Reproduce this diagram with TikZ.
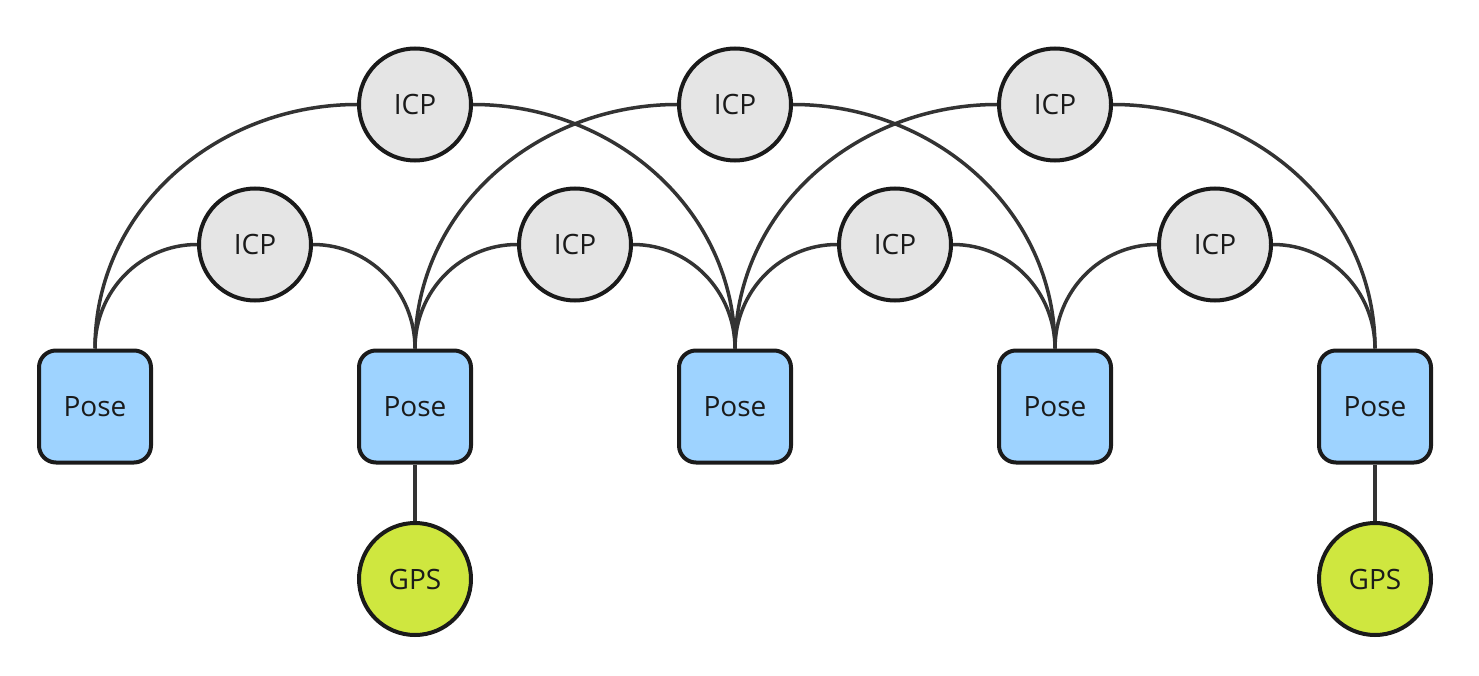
\documentclass[tikz,border=0pt]{standalone}
\usepackage{fontspec}
\setmainfont{Open Sans}
\definecolor{posefill}{HTML}{9ED3FF}
\definecolor{icpfill}{HTML}{E5E5E5}
\definecolor{gpsfill}{HTML}{CFE73F}
\definecolor{edgecol}{HTML}{333333}
\definecolor{bordercol}{HTML}{1A1A1A}
\begin{document}
\begin{tikzpicture}[x=1pt,y=-1pt,
  posebox/.style={draw=bordercol,line width=4pt,fill=posefill,rounded corners=17pt,minimum width=112pt,minimum height=112pt,inner sep=0pt,font=\fontsize{28}{33}\selectfont,text=bordercol},
  icpnode/.style={circle,draw=bordercol,line width=4pt,fill=icpfill,minimum size=112pt,inner sep=0pt,font=\fontsize{28}{33}\selectfont,text=bordercol},
  gpsnode/.style={circle,draw=bordercol,line width=4pt,fill=gpsfill,minimum size=112pt,inner sep=0pt,font=\fontsize{28}{33}\selectfont,text=bordercol},
  link/.style={draw=edgecol,line width=3.5pt}]
\useasboundingbox (0,0) rectangle (1479,676);
\foreach \i/\x in {1/95,2/415,3/735,4/1055,5/1375}{
  \node[posebox] (p\i) at (\x,406.5) {Pose};
}
\foreach \i/\x in {1/255,2/575,3/895,4/1215}{
  \node[icpnode] (a\i) at (\x,244.5) {ICP};
}
\foreach \i/\x in {1/415,2/735,3/1055}{
  \node[icpnode] (b\i) at (\x,104.5) {ICP};
}
\node[gpsnode] (g1) at (415,579) {GPS};
\node[gpsnode] (g2) at (1375,579) {GPS};
\foreach \i/\j in {1/2,2/3,3/4,4/5}{
  \draw[link] (p\i.north) to[out=90,in=180] (a\i.west);
  \draw[link] (a\i.east) to[out=0,in=90] (p\j.north);
}
\foreach \i/\j/\k in {1/1/3,2/2/4,3/3/5}{
  \draw[link] (p\j.north) to[out=90,in=180] (b\i.west);
  \draw[link] (b\i.east) to[out=0,in=90] (p\k.north);
}
\draw[link] (p2.south) -- (g1.north);
\draw[link] (p5.south) -- (g2.north);
\end{tikzpicture}
\end{document}
